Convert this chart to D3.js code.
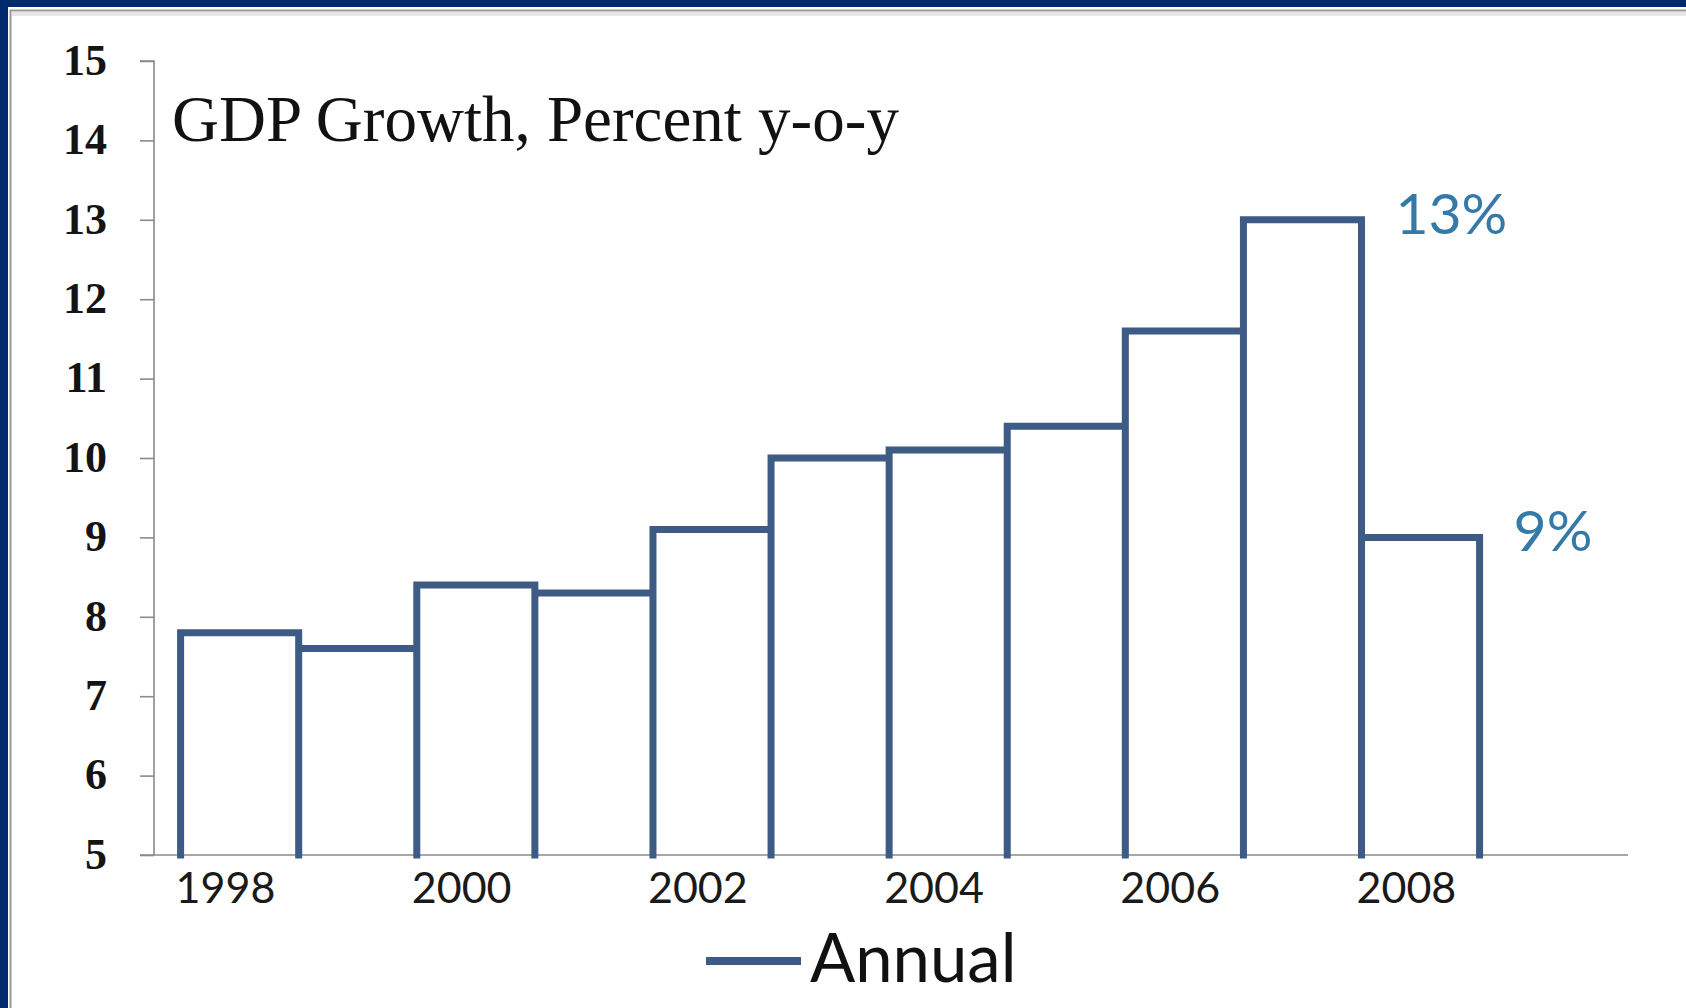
<!DOCTYPE html>
<html>
<head>
<meta charset="utf-8">
<script src="https://cdn.jsdelivr.net/npm/d3@7/dist/d3.min.js"></script>
<style>
  html, body { margin: 0; padding: 0; background: #ffffff; }
  svg { display: block; }
</style>
</head>
<body>
<svg id="chart" width="1686" height="1008"></svg>
<script>
// Annual GDP growth, percent year over year
const years = [1998, 1999, 2000, 2001, 2002, 2003, 2004, 2005, 2006, 2007, 2008];
const growth = [7.8, 7.6, 8.4, 8.3, 9.1, 10.0, 10.1, 10.4, 11.6, 13.0, 9.0];

// Axis ticks
const yTicks = [5, 6, 7, 8, 9, 10, 11, 12, 13, 14, 15];
const xTickYears = [1998, 2000, 2002, 2004, 2006, 2008];

// Value callouts on the last two years
const callouts = [
  { year: 2007, value: 13.0, text: "13%" },
  { year: 2008, value: 9.0, text: "9%" }
];

const titleText = "GDP Growth, Percent y-o-y";
const seriesName = "Annual";

const W = 1686, H = 1008;
const lineColor = "#3d5b84";
const axisColor = "#8a8a8a";
const calloutColor = "#3579a9";

const svg = d3.select("#chart");

// Frame: navy edge with a white panel inside
svg.append("rect").attr("x", 0).attr("y", 0).attr("width", W).attr("height", H).attr("fill", "#012a6e");
svg.append("rect").attr("x", 8).attr("y", 7).attr("width", W - 8).attr("height", H - 7).attr("fill", "#ffffff");
svg.append("rect").attr("x", 10.5).attr("y", 10.5).attr("width", W).attr("height", H)
  .attr("fill", "none").attr("stroke", "#9a9a9a").attr("stroke-width", 2);
svg.append("line").attr("x1", 12).attr("x2", W).attr("y1", 14).attr("y2", 14)
  .attr("stroke", "#e6e6e6").attr("stroke-width", 4);

// Scales: each year occupies one unit centred on the year
const x = d3.scaleLinear()
  .domain([years[0] - 0.5, years[years.length - 1] + 0.5])
  .range([180.6, 1479.6]);
const y = d3.scaleLinear().domain([5, 15]).range([855, 61]);

const plotLeft = 154, plotRight = 1628;

// Y axis
const yAxis = d3.axisLeft(y).tickValues(yTicks).tickSize(14).tickPadding(0).tickFormat(d3.format("d"));
const gy = svg.append("g").attr("transform", `translate(${plotLeft},0)`).call(yAxis);
gy.select(".domain").attr("stroke", axisColor).attr("stroke-width", 1.6)
  .attr("d", `M-14,${y(15)}H0V${y(5)}`);
gy.selectAll(".tick line").attr("stroke", axisColor).attr("stroke-width", 1.6);
gy.selectAll(".tick text")
  .attr("x", -47)
  .attr("dy", "0.3em")
  .attr("fill", "#141414")
  .style("font-family", "'Liberation Serif', 'DejaVu Serif', serif")
  .style("font-weight", "bold")
  .style("font-size", "44px");

// X axis baseline
svg.append("line")
  .attr("x1", plotLeft - 14).attr("x2", plotRight)
  .attr("y1", y(5)).attr("y2", y(5))
  .attr("stroke", axisColor).attr("stroke-width", 1.6);

// X tick labels (every second year)
svg.append("g").selectAll("text")
  .data(xTickYears)
  .join("text")
  .attr("x", d => x(d - 0.12))
  .attr("y", y(5) + 48)
  .attr("text-anchor", "middle")
  .attr("fill", "#1a1a1a")
  .style("font-family", "Lato, 'Open Sans', sans-serif")
  .style("font-size", "43px")
  .text(d => d);

// Step outline: every year drawn as an open box standing on the baseline
const outline = d3.path();
years.forEach((yr, i) => {
  outline.moveTo(x(yr - 0.5), y(5));
  outline.lineTo(x(yr - 0.5), y(growth[i]));
  outline.lineTo(x(yr + 0.5), y(growth[i]));
  outline.lineTo(x(yr + 0.5), y(5));
});
svg.append("path")
  .attr("d", outline.toString())
  .attr("fill", "none")
  .attr("stroke", lineColor)
  .attr("stroke-width", 7)
  .attr("stroke-linejoin", "miter")
  .attr("stroke-linecap", "square");

// Title
svg.append("text")
  .attr("x", 172).attr("y", 141)
  .attr("fill", "#111")
  .style("font-family", "'Liberation Serif', 'DejaVu Serif', serif")
  .style("font-size", "65px")
  .text(titleText);

// Value callouts
svg.append("g").selectAll("text")
  .data(callouts)
  .join("text")
  .attr("x", d => x(d.year + 0.5) + 34)
  .attr("y", d => y(d.value) + 14)
  .attr("fill", calloutColor)
  .style("font-family", "Lato, 'Open Sans', sans-serif")
  .style("font-size", "57px")
  .text(d => d.text);

// Legend
const legend = svg.append("g");
legend.append("line")
  .attr("x1", 706).attr("x2", 801).attr("y1", 961).attr("y2", 961)
  .attr("stroke", lineColor).attr("stroke-width", 8);
legend.append("text")
  .attr("x", 810).attr("y", 982)
  .attr("fill", "#111")
  .style("font-family", "Lato, 'Open Sans', sans-serif")
  .style("font-size", "67px")
  .text(seriesName);
</script>
</body>
</html>
